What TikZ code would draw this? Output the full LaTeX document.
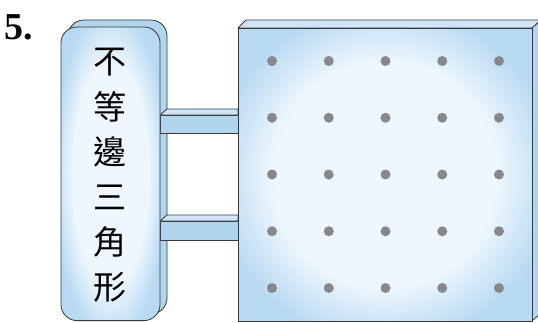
\documentclass[tikz,border=0pt]{standalone}
\usepackage{fontspec}
\setmainfont{Liberation Serif}
\newfontfamily\cjk{Noto Sans CJK TC}
\definecolor{outline}{RGB}{55,55,60}
\definecolor{sideblue}{RGB}{178,213,238}
\definecolor{topblue}{RGB}{208,230,247}
\definecolor{faceblue}{RGB}{184,217,242}
\definecolor{facelight}{RGB}{238,247,253}
\definecolor{dotgray}{RGB}{135,135,140}
\pgfdeclareradialshading{panelshade}{\pgfpoint{0bp}{0bp}}{color(0bp)=(facelight); color(19bp)=(facelight); color(29bp)=(faceblue); color(50bp)=(faceblue)}
\begin{document}
\begin{tikzpicture}[x=1pt, y=-1pt,
    edge/.style={draw=outline, line width=0.8pt, line join=round},
    side/.style={edge, fill=sideblue},
    topface/.style={edge, fill=topblue},
    panel/.style={edge, shading=panelshade},
    hole/.style={fill=dotgray},
    glyph/.style={font=\cjk\fontsize{33}{33}\selectfont, inner sep=0pt}]
    \useasboundingbox (0,0) rectangle (538,322);
    \clip (0,0) rectangle (538,322);
    
    %Label
    \node[font=\bfseries\fontsize{38}{38}\selectfont, inner sep=0pt] at (19, 27) (num) {5.};
    
    %Tablet
    \draw[side, rounded corners=16pt] (68,20) rectangle (167,314);
    
    %Bars
    \draw[side] (160,115) rectangle (238,133);
    \draw[topface] (160,115) -- (167,109) -- (238,109) -- (238,115) -- cycle;
    \draw[side] (160,221) rectangle (238,240);
    \draw[topface] (160,221) -- (167,215) -- (238,215) -- (238,221) -- cycle;
    
    \draw[panel, rounded corners=16pt] (61,27) rectangle (160,320.6);
    
    %Board
    \draw[topface] (238,28) -- (246,20) -- (541,20) -- (532,28) -- cycle;
    \draw[side] (532,28) -- (541,20) -- (541,313) -- (532,321) -- cycle;
    \draw[panel] (238,28) rectangle (532,321);
    
    %Dots
    \foreach \i in {0,...,4}
        \foreach \j in {0,...,4}
            \fill[hole] (272+56.75*\i, 61+56.75*\j) circle (5pt);
    
    %Text
    \foreach \c [count=\k from 0] in {不,等,邊,三,角,形}
        \node[glyph] at (110, 62+45*\k) (ch\k) {\c};
    
\end{tikzpicture}
\end{document}
